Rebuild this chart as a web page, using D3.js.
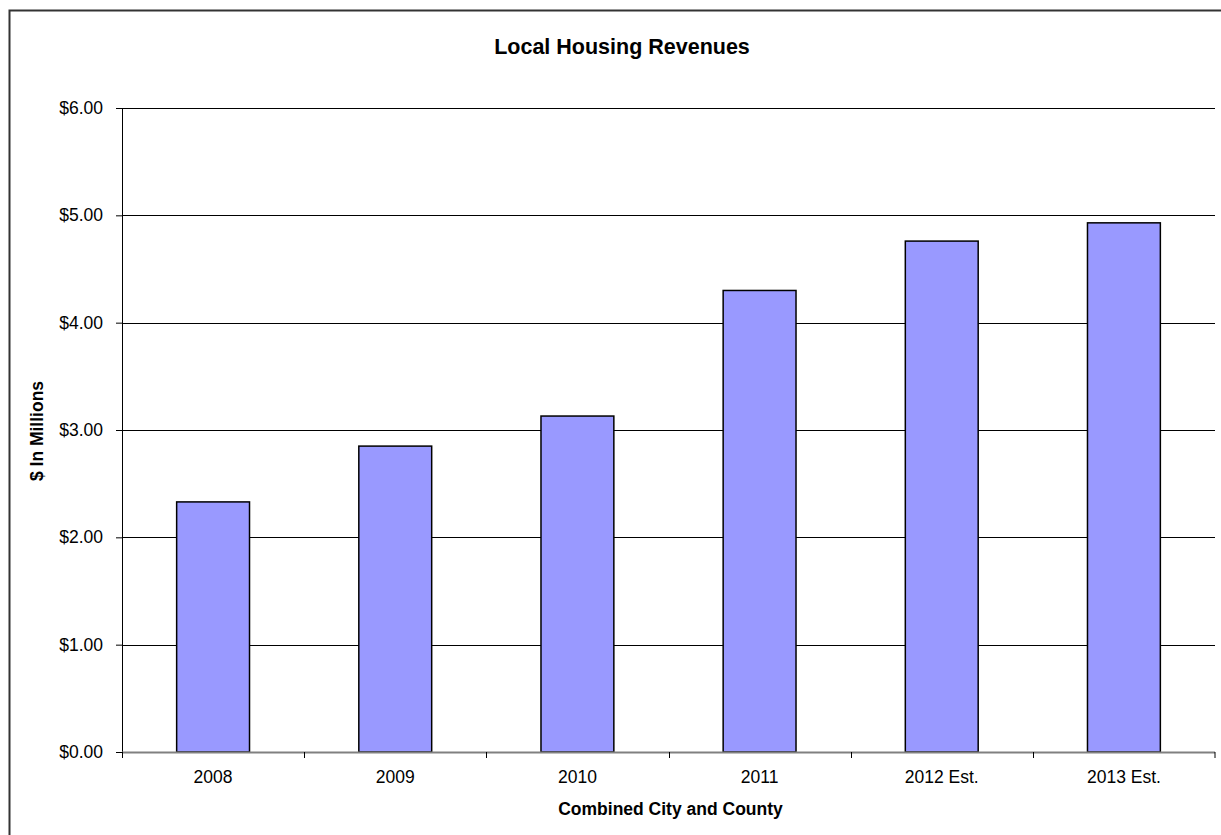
<!DOCTYPE html>
<html>
<head>
<meta charset="utf-8">
<script src="https://cdn.jsdelivr.net/npm/d3@7"></script>
<style>
  body { margin: 0; background: #fff; }
  svg { display: block; font-family: "Liberation Sans", Arial, sans-serif; }
</style>
</head>
<body>
<script>
// chart data
var years = ["2008", "2009", "2010", "2011", "2012 Est.", "2013 Est."];
var revenues = [2.33, 2.85, 3.13, 4.30, 4.76, 4.93];
var yTicks = [0, 1, 2, 3, 4, 5, 6];

var data = years.map(function(y, i) { return {year: y, value: revenues[i]}; });

var W = 1221, H = 835;
var margin = {top: 108, right: 6, bottom: 83, left: 122},
    width = W - margin.left - margin.right,
    height = H - margin.top - margin.bottom;

var svg = d3.select("body").append("svg")
    .attr("width", W)
    .attr("height", H);

// outer chart frame (runs off the right/bottom edge like the original)
svg.append("rect")
    .attr("x", 9.5).attr("y", 10.5)
    .attr("width", W + 20).attr("height", H + 20)
    .attr("fill", "none")
    .attr("stroke", "#333")
    .attr("stroke-width", 2);

var g = svg.append("g")
    .attr("transform", "translate(" + margin.left + "," + margin.top + ")");

var x = d3.scaleBand().domain(years).range([0, width]).padding(0);
var y = d3.scaleLinear().domain([0, 6]).range([height, 0]);

// gridlines
g.append("g")
    .selectAll("line")
    .data(yTicks.slice(1))
    .enter().append("line")
    .attr("x1", 0).attr("x2", width)
    .attr("y1", function(d) { return Math.round(y(d)) + 0.5; })
    .attr("y2", function(d) { return Math.round(y(d)) + 0.5; })
    .attr("stroke", "#000")
    .attr("stroke-width", 1);

// bars
var barW = x.bandwidth() * 0.4;
g.selectAll(".bar")
    .data(data)
    .enter().append("rect")
    .attr("class", "bar")
    .attr("x", function(d) { return x(d.year) + (x.bandwidth() - barW) / 2; })
    .attr("y", function(d) { return y(d.value); })
    .attr("width", barW)
    .attr("height", function(d) { return height - y(d.value); })
    .attr("fill", "#9999ff")
    .attr("stroke", "#000")
    .attr("stroke-width", 1.5);

// y axis
var yAxis = g.append("g")
    .call(d3.axisLeft(y).tickValues(yTicks).tickSize(6).tickSizeOuter(0)
        .tickFormat(function(d) { return "$" + d3.format(".2f")(d); }));
yAxis.select(".domain").attr("stroke", "#000");
yAxis.selectAll(".tick line").attr("stroke", "#000");
yAxis.selectAll("text")
    .attr("x", -19)
    .attr("font-size", 17.5)
    .attr("font-family", "Liberation Sans, Arial, sans-serif")
    .attr("fill", "#000");

// x axis with ticks at the category boundaries
var xAxis = g.append("g")
    .attr("transform", "translate(0," + height + ")");
xAxis.append("line")
    .attr("x1", 0).attr("x2", width)
    .attr("y1", 0.5).attr("y2", 0.5)
    .attr("stroke", "#808080")
    .attr("stroke-width", 2);
xAxis.selectAll(".xtick")
    .data(years.concat([null]))
    .enter().append("line")
    .attr("class", "xtick")
    .attr("x1", function(d) { return d === null ? width : Math.round(x(d)) + 0.5; })
    .attr("x2", function(d) { return d === null ? width : Math.round(x(d)) + 0.5; })
    .attr("y1", 0).attr("y2", 6)
    .attr("stroke", "#000");
xAxis.selectAll(".xlabel")
    .data(years)
    .enter().append("text")
    .attr("class", "xlabel")
    .attr("x", function(d) { return x(d) + x.bandwidth() / 2; })
    .attr("y", 31)
    .attr("text-anchor", "middle")
    .attr("font-size", 17.5)
    .text(function(d) { return d; });

// titles
svg.append("text")
    .attr("x", 622).attr("y", 54)
    .attr("text-anchor", "middle")
    .attr("font-size", 21.5)
    .attr("font-weight", "bold")
    .text("Local Housing Revenues");

svg.append("text")
    .attr("x", margin.left + width / 2 + 2).attr("y", 815)
    .attr("text-anchor", "middle")
    .attr("font-size", 17.5)
    .attr("font-weight", "bold")
    .text("Combined City and County");

svg.append("text")
    .attr("transform", "translate(43," + 431 + ") rotate(-90)")
    .attr("text-anchor", "middle")
    .attr("font-size", 17.5)
    .attr("font-weight", "bold")
    .text("$ In Millions");
</script>
</body>
</html>
